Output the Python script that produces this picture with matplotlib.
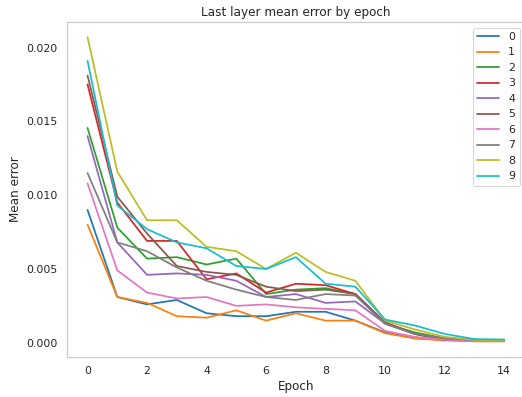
import matplotlib
matplotlib.use("Agg")
import matplotlib.pyplot as plt
import seaborn as sns

epochs = list(range(15))
labels = ["0", "1", "2", "3", "4", "5", "6", "7", "8", "9"]

s0 = [0.0090, 0.0031, 0.0026, 0.0029, 0.0020, 0.0018, 0.0018, 0.0021, 0.0021, 0.0015, 0.0007, 0.0003, 0.0002, 0.00015, 0.00012]
s1 = [0.0080, 0.0031, 0.0027, 0.0018, 0.0017, 0.0022, 0.0015, 0.0020, 0.0015, 0.0015, 0.00065, 0.0003, 0.00015, 0.0001, 0.0001]
s2 = [0.01455, 0.0078, 0.0057, 0.0058, 0.0053, 0.0057, 0.0033, 0.0036, 0.0037, 0.0033, 0.0013, 0.0007, 0.0003, 0.0002, 0.00015]
s3 = [0.0175, 0.0095, 0.0069, 0.0069, 0.0043, 0.0047, 0.0034, 0.0040, 0.0039, 0.0033, 0.0013, 0.0006, 0.0002, 0.00015, 0.00012]
s4 = [0.0140, 0.0068, 0.0046, 0.0047, 0.0046, 0.0042, 0.0031, 0.0033, 0.0027, 0.0028, 0.0013, 0.0006, 0.0002, 0.00015, 0.00012]
s5 = [0.0181, 0.0099, 0.0074, 0.0052, 0.0048, 0.0046, 0.0038, 0.0035, 0.0036, 0.0033, 0.0014, 0.0006, 0.0002, 0.00015, 0.00012]
s6 = [0.0108, 0.0049, 0.0034, 0.0030, 0.0031, 0.0025, 0.0026, 0.0024, 0.0023, 0.0022, 0.0008, 0.0004, 0.0002, 0.0001, 0.0001]
s7 = [0.0115, 0.0068, 0.0062, 0.0051, 0.0042, 0.0036, 0.0031, 0.0029, 0.0033, 0.0032, 0.0013, 0.0006, 0.0003, 0.0002, 0.00015]
s8 = [0.0207, 0.0116, 0.0083, 0.0083, 0.0065, 0.0062, 0.0050, 0.0061, 0.0048, 0.0042, 0.0015, 0.0009, 0.0004, 0.0002, 0.00015]
s9 = [0.0191, 0.0093, 0.0077, 0.0068, 0.0064, 0.0052, 0.0050, 0.0058, 0.0040, 0.0038, 0.00157, 0.00117, 0.0006, 0.00025, 0.00022]

series = [s0, s1, s2, s3, s4, s5, s6, s7, s8, s9]

sns.set_theme(style="whitegrid")
plt.rcParams['font.family'] = ['DejaVu Sans']

fig = plt.figure(figsize=(522 / 72, 397 / 72), dpi=72)
ax = fig.add_axes([66.7 / 522, 1 - 356.5 / 397, (525 - 66.7) / 522, (356.5 - 22) / 397])
ax.grid(False)

colors = plt.get_cmap("tab10").colors
for lab, s, c in zip(labels, series, colors):
    ax.plot(epochs, s, label=lab, color=c, linewidth=1.75)

ax.set_title("Last layer mean error by epoch")
ax.set_xlabel("Epoch")
ax.set_ylabel("Mean error")
ax.set_xticks([0, 2, 4, 6, 8, 10, 12, 14])
ax.set_yticks([0.000, 0.005, 0.010, 0.015, 0.020])
ax.set_yticklabels(["0.000", "0.005", "0.010", "0.015", "0.020"])
ax.legend(loc="upper right")

fig.savefig("out.png", dpi=72)
